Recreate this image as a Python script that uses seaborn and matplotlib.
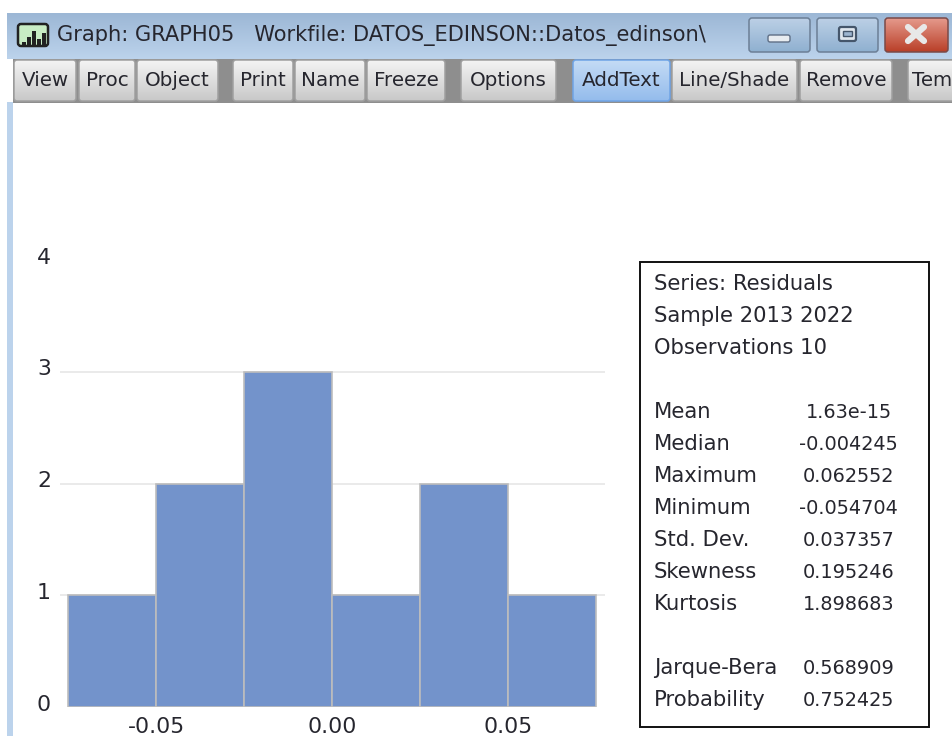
import numpy as np
import matplotlib
matplotlib.use("Agg")
import matplotlib.pyplot as plt
import seaborn as sns
from matplotlib.patches import FancyBboxPatch, Rectangle
from matplotlib.transforms import ScaledTranslation

# histogram of residuals
bin_edges = [-0.075, -0.05, -0.025, 0.0, 0.025, 0.05, 0.075]
bin_centers = [-0.0625, -0.0375, -0.0125, 0.0125, 0.0375, 0.0625]
counts = [1, 2, 3, 1, 2, 1]
x_ticks = [-0.05, 0.00, 0.05]
x_tick_labels = ["-0.05", "0.00", "0.05"]
y_ticks = [0, 1, 2, 3, 4]

# stats box
header_lines = ["Series: Residuals", "Sample 2013 2022", "Observations 10"]
stat_names = ["Mean", "Median", "Maximum", "Minimum", "Std. Dev.", "Skewness", "Kurtosis"]
stat_values = ["1.63e-15", "-0.004245", "0.062552", "-0.054704", "0.037357", "0.195246", "1.898683"]
test_names = ["Jarque-Bera", "Probability"]
test_values = ["0.568909", "0.752425"]

# window chrome
title_text = "Graph: GRAPH05   Workfile: DATOS_EDINSON::Datos_edinson\\"
button_labels = ["View", "Proc", "Object", "Print", "Name", "Freeze", "Options",
                 "AddText", "Line/Shade", "Remove", "Tem"]
button_left = [14, 79, 137, 233, 295, 367, 461, 573, 672, 800, 908]
button_right = [76, 135, 218, 293, 365, 445, 556, 670, 797, 892, 975]

W, H = 953, 736
FONT = "DejaVu Sans"
TEXT = "#26262e"

sns.set_theme(style="white")
plt.rcParams["font.family"] = [FONT]

fig = plt.figure(figsize=(W / 100, H / 100), dpi=100, facecolor="white")

# full-figure pixel layer for the window parts
ui = fig.add_axes([0, 0, 1, 1], zorder=0)
ui.set_xlim(0, W)
ui.set_ylim(H, 0)
ui.autoscale(False)
ui.axis("off")


def gradient(extent, c_top, c_bot, clip=None, zorder=2):
    c_top = np.array(matplotlib.colors.to_rgb(c_top)).reshape(1, 1, 3)
    c_bot = np.array(matplotlib.colors.to_rgb(c_bot)).reshape(1, 1, 3)
    ramp = np.linspace(0, 1, 64).reshape(-1, 1, 1)
    im = ui.imshow(c_top + (c_bot - c_top) * ramp, extent=extent, aspect="auto", zorder=zorder)
    if clip is not None:
        im.set_clip_path(clip)


def button(x0, x1, y0, y1, c_top, c_bot, edge):
    box = FancyBboxPatch((x0, y0), x1 - x0, y1 - y0, boxstyle="round,pad=0,rounding_size=3",
                         fc="none", ec=edge, lw=1.1, zorder=2.5)
    ui.add_patch(box)
    gradient([x0, x1, y1, y0], c_top, c_bot, clip=box)


gradient([7, W, 59, 13], "#9cb7d5", "#bcd3ec", zorder=1)
ui.add_patch(Rectangle((7, 102), 6, H - 102, color="#bcd3ec", lw=0, zorder=1))
ui.add_patch(Rectangle((13, 59), W - 13, 44, color="#8e8e8e", lw=0, zorder=1))

# little graph icon
ui.add_patch(FancyBboxPatch((18, 24), 30, 22, boxstyle="round,pad=0,rounding_size=3",
                            fc="#c8ecc4", ec="#222222", lw=1.8, zorder=2))
for bx, bh in zip([22, 27, 32, 37, 42], [4, 9, 15, 7, 13]):
    ui.add_patch(Rectangle((bx, 46 - bh), 4, bh, color="#222222", lw=0, zorder=3))
ui.text(57, 36, title_text, fontsize=15.1, color=TEXT, va="center", ha="left", zorder=3)

# window buttons
button(749, 810, 18, 52, "#bcd0e6", "#8fb0d0", "#6c7f96")
button(817, 878, 18, 52, "#bcd0e6", "#8fb0d0", "#6c7f96")
button(885, 948, 18, 52, "#e59a8c", "#b93f28", "#7a4a48")
ui.add_patch(FancyBboxPatch((768, 35), 22, 7, boxstyle="round,pad=0,rounding_size=2",
                            fc="#e8ecf0", ec="#5f6f85", lw=1, zorder=3))
ui.add_patch(FancyBboxPatch((839, 27), 17, 14, boxstyle="round,pad=0,rounding_size=2",
                            fc="#dfe6ee", ec="#45566b", lw=1.6, zorder=3))
ui.add_patch(Rectangle((843, 31), 9, 5, fc="#9db5d0", ec="#45566b", lw=1, zorder=3.5))
ui.plot([908, 924], [27, 41], color="#e8e8e8", lw=4.5, solid_capstyle="round", zorder=3)
ui.plot([924, 908], [27, 41], color="#e8e8e8", lw=4.5, solid_capstyle="round", zorder=3)

# toolbar
for label, x0, x1 in zip(button_labels, button_left, button_right):
    if label == "AddText":
        button(x0, x1, 60, 101, "#c4dbf5", "#94bcec", "#6fa4e6")
    else:
        button(x0, x1, 60, 101, "#f4f4f4", "#c8c8c8", "#a0a0a0")
    t = ui.text((x0 + x1) / 2, 81, label, fontsize=14.3, color=TEXT, ha="center", va="center", zorder=3)
    if label == "Tem":
        t.set_x(x0 + 4)
        t.set_ha("left")
ui.add_patch(Rectangle((0, 0), 7, H, color="white", lw=0, zorder=4))

# histogram
left, right, y_base, y_top = 60, 605, 707, 260
ax = fig.add_axes([left / W, 1 - y_base / H, (right - left) / W, (y_base - y_top) / H], zorder=2)
ax.patch.set_alpha(0)
sns.histplot(x=bin_centers, weights=counts, bins=bin_edges, ax=ax, color="#7393cb",
             alpha=1, edgecolor="#bdbdbd", linewidth=1.2, zorder=3)
x_per_px = 0.05 / 176
ax.set_xlim(-0.05 - (156 - left) * x_per_px, 0.05 + (right - 508) * x_per_px)
ax.set_ylim(0, 4)
ax.set_xticks(x_ticks, x_tick_labels)
ax.set_yticks(y_ticks)
ax.set_xlabel("")
ax.set_ylabel("")
ax.tick_params(length=0, labelsize=15.8, colors=TEXT)
ax.tick_params(axis="y", pad=6.5)
ax.tick_params(axis="x", pad=7.5)
# reference's y labels sit a little above their gridlines
for lab in ax.get_yticklabels():
    lab.set_transform(lab.get_transform() + ScaledTranslation(0, 3.2 / 72, fig.dpi_scale_trans))
for y in [1, 2, 3]:
    ax.axhline(y, color="#e6e6e6", lw=1.2, zorder=1)
sns.despine(ax=ax, left=True, bottom=True, top=True, right=True)

# stats box
ui.add_patch(Rectangle((640, 262), 289, 465, fc="white", ec="#111111", lw=1.4, zorder=2))
row = 32
y0 = 284
for i, line in enumerate(header_lines):
    ui.text(654, y0 + i * row, line, fontsize=15.2, color=TEXT, va="center", zorder=3)
for i, (n, v) in enumerate(zip(stat_names, stat_values)):
    y = y0 + (i + 4) * row
    ui.text(654, y, n, fontsize=15.2, color=TEXT, va="center", zorder=3)
    ui.text(848.5, y, v, fontsize=13.9, color=TEXT, va="center", ha="center", zorder=3)
for i, (n, v) in enumerate(zip(test_names, test_values)):
    y = y0 + (i + 12) * row
    ui.text(654, y, n, fontsize=15.2, color=TEXT, va="center", zorder=3)
    ui.text(848.5, y, v, fontsize=13.9, color=TEXT, va="center", ha="center", zorder=3)

fig.savefig("out.png", dpi=100)
plt.close(fig)
